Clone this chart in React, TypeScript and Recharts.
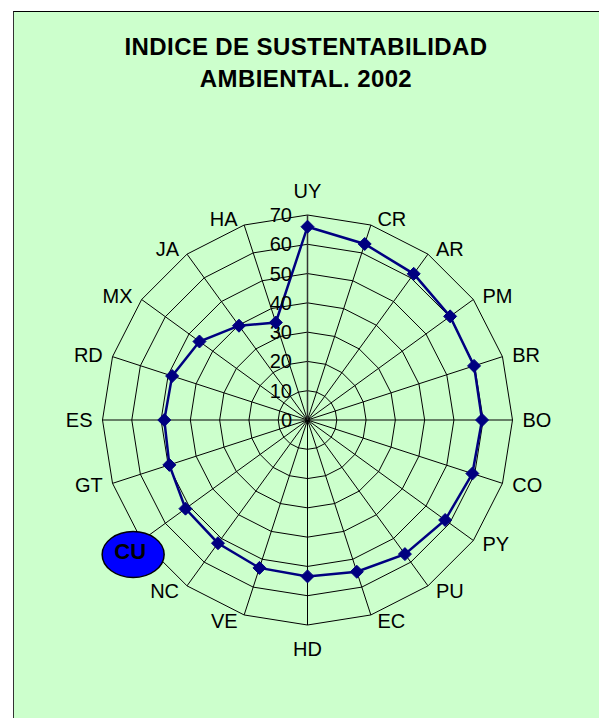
import React from 'react';
import {
  RadarChart,
  Radar,
  PolarGrid,
  PolarAngleAxis,
  PolarRadiusAxis,
} from 'recharts';

// Countries clockwise from the top
const countries = [
  'UY', 'CR', 'AR', 'PM', 'BR', 'BO', 'CO', 'PY', 'PU', 'EC',
  'HD', 'VE', 'NC', 'CU', 'GT', 'ES', 'RD', 'MX', 'JA', 'HA',
];
const esiValues = [
  66.0, 63.2, 61.7, 60.2, 59.8, 59.6, 59.2, 58.1, 56.6, 54.5,
  53.4, 53.1, 52.0, 51.5, 49.6, 48.9, 48.6, 45.6, 39.8, 35.0,
];
const radiusTicks = [0, 10, 20, 30, 40, 50, 60, 70];
const highlighted = 'CU';

const data = countries.map((name, i) => ({ name, value: esiValues[i] }));

const CX = 307.5;
const CY = 420;
const R = 205;
const FONT = "'Liberation Sans', Arial, sans-serif";

const AngleTick = (props: any) => {
  const { payload } = props;
  const a = (payload.coordinate * Math.PI) / 180;
  const ux = Math.cos(a);
  const uy = Math.sin(a); // up is positive
  const vx = CX + R * ux;
  const vy = CY - R * uy;
  const label = payload.value;

  if (label === highlighted) {
    // highlighted country: blue ellipse over the label
    const ex = vx - 8.5;
    const ey = vy + 14;
    return (
      <g>
        <ellipse cx={ex} cy={ey} rx={31} ry={23} fill="#0000ff" stroke="#000" strokeWidth={1.5} />
        <text
          x={ex - 3}
          y={ey - 3}
          textAnchor="middle"
          dominantBaseline="central"
          fontFamily={FONT}
          fontWeight="bold"
          fontSize={22}
          fill="#000"
        >
          {label}
        </text>
      </g>
    );
  }

  let x = vx;
  let y = vy;
  let anchor: 'start' | 'middle' | 'end' = 'middle';
  if (Math.abs(ux) < 0.01) {
    y = vy - (uy > 0 ? 24 : -24);
  } else {
    const gap = 5 + 5 * Math.abs(ux);
    x = vx + (ux > 0 ? gap : -gap);
    anchor = ux > 0 ? 'start' : 'end';
    y = vy - 6.3 * uy;
  }
  return (
    <text
      x={x}
      y={y}
      textAnchor={anchor}
      dominantBaseline="central"
      fontFamily={FONT}
      fontSize={20}
      fill="#000"
    >
      {label}
    </text>
  );
};

const RadiusTick = (props: any) => {
  const { x, y, payload } = props;
  return (
    <text
      x={x - 15.5}
      y={y}
      textAnchor="end"
      dominantBaseline="central"
      fontFamily={FONT}
      fontSize={20}
      fill="#000"
    >
      {payload.value}
    </text>
  );
};

const Diamond = (props: any) => {
  const { cx, cy } = props;
  const s = 6.5;
  return (
    <path
      d={`M${cx},${cy - s} L${cx + s},${cy} L${cx},${cy + s} L${cx - s},${cy} Z`}
      fill="#000080"
      stroke="#000080"
    />
  );
};

export default function App() {
  return (
    <div style={{ position: 'absolute', left: 0, top: 0, width: 599, height: 718, background: '#fff', overflow: 'hidden' }}>
      <div
        style={{
          position: 'absolute',
          left: 13,
          top: 11,
          width: 620,
          height: 740,
          background: '#ccffcc',
          borderLeft: '1.5px solid #333',
          borderTop: '1.5px solid #000',
        }}
      />
      <div
        style={{
          position: 'absolute',
          left: 0,
          top: 31,
          width: 612,
          textAlign: 'center',
          fontFamily: FONT,
          fontWeight: 'bold',
          fontSize: 24,
          letterSpacing: 0.4,
          lineHeight: '32px',
          color: '#000',
        }}
      >
        INDICE DE SUSTENTABILIDAD
        <br />
        AMBIENTAL. 2002
      </div>
      <div style={{ position: 'absolute', left: 0, top: 0 }}>
        <RadarChart
          width={599}
          height={718}
          data={data}
          cx={CX}
          cy={CY}
          outerRadius={R}
          startAngle={90}
          endAngle={-270}
          margin={{ top: 0, right: 0, bottom: 0, left: 0 }}
        >
          <PolarGrid gridType="polygon" stroke="#000" strokeWidth={1} radialLines={true} />
          <PolarAngleAxis dataKey="name" tick={<AngleTick />} tickLine={false} axisLine={false} />
          <PolarRadiusAxis
            angle={90}
            domain={[0, 70]}
            ticks={radiusTicks as any}
            tickCount={8}
            tick={<RadiusTick />}
            axisLine={{ stroke: '#333', strokeWidth: 1.5 }}
            tickLine={false}
          />
          <Radar
            dataKey="value"
            stroke="#000080"
            strokeWidth={2.5}
            fill="none"
            fillOpacity={0}
            dot={<Diamond />}
            isAnimationActive={false}
          />
        </RadarChart>
      </div>
    </div>
  );
}
